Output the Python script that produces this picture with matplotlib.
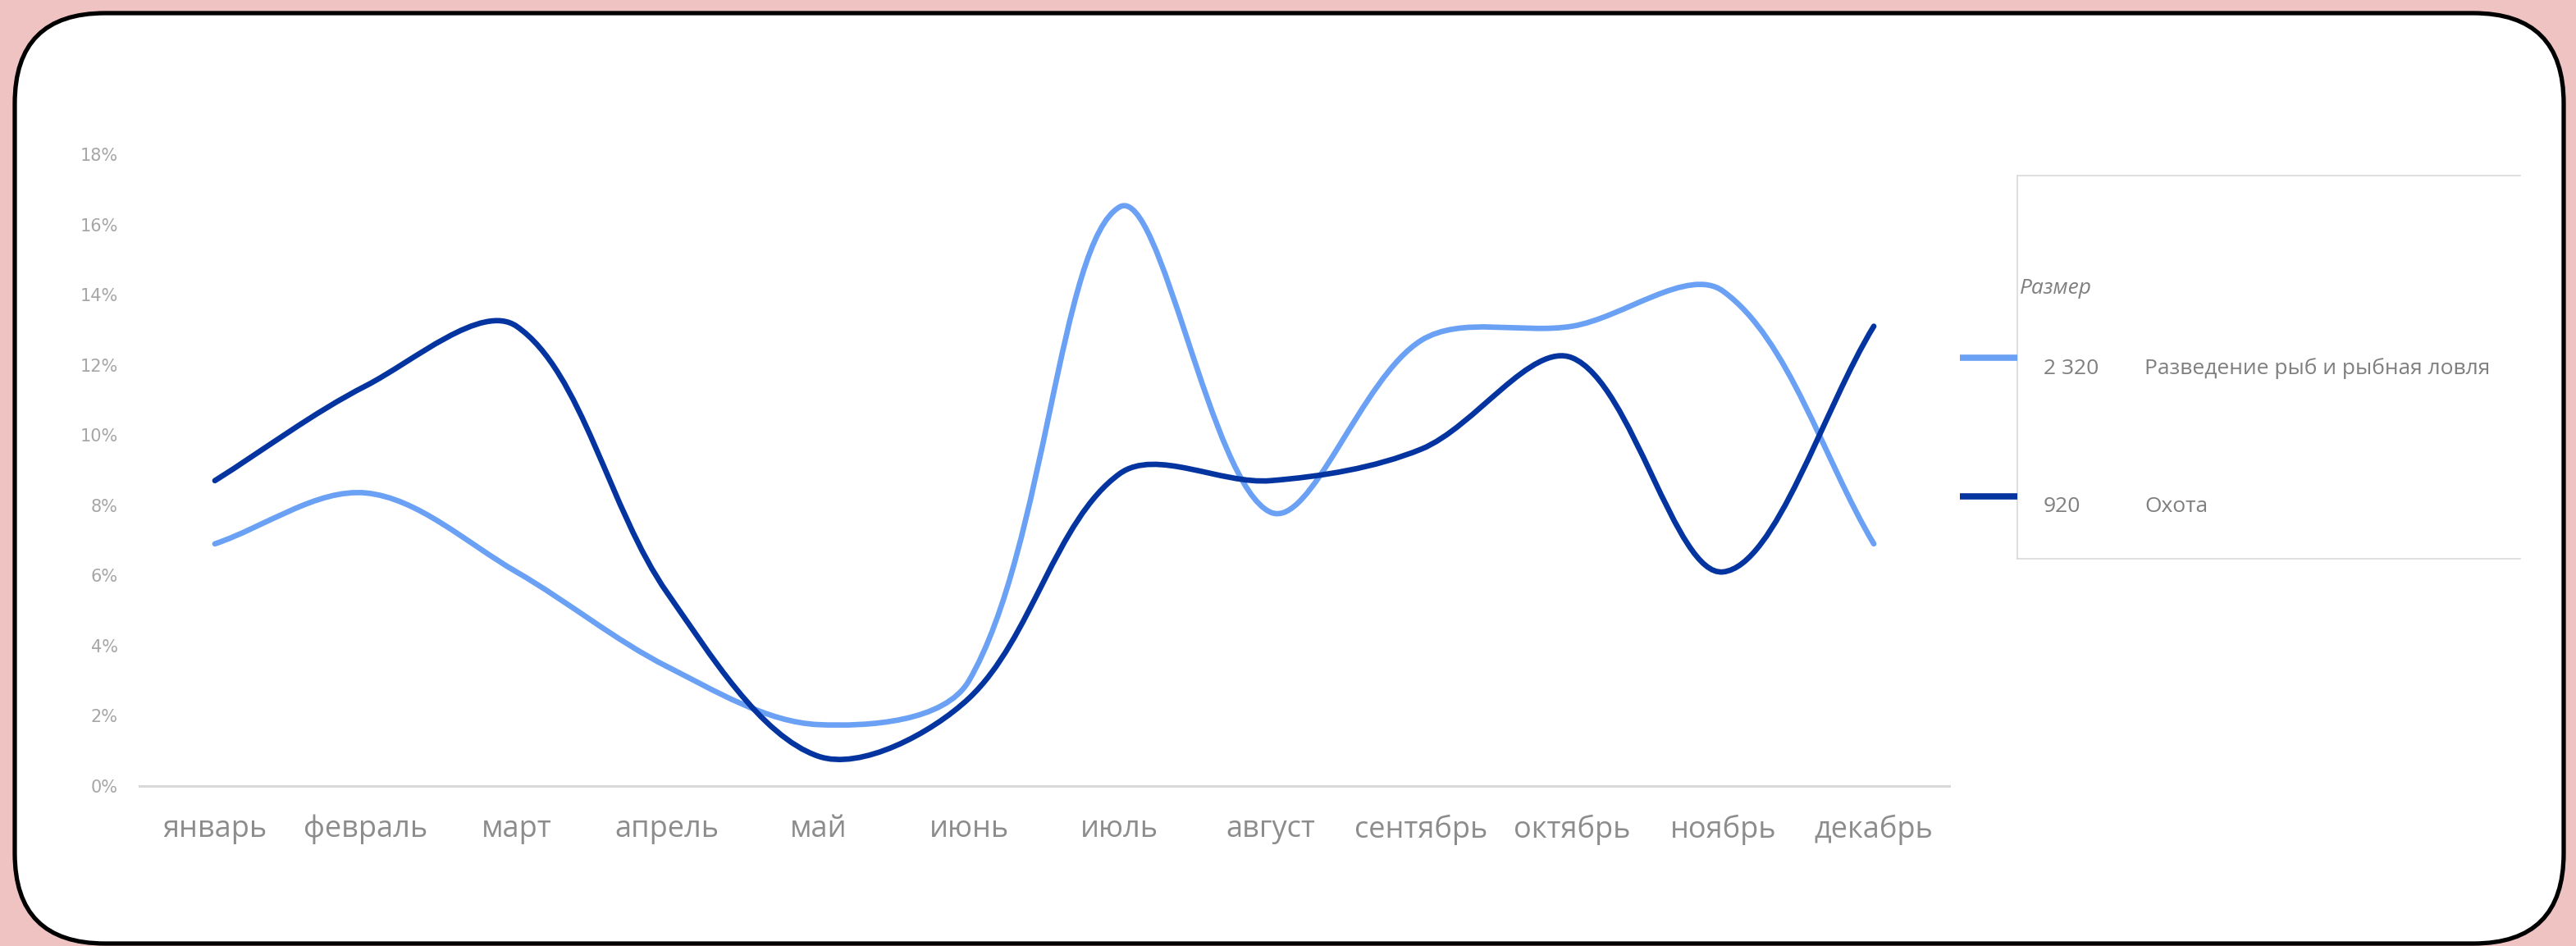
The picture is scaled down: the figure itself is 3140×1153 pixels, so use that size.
import matplotlib
matplotlib.use("Agg")
import matplotlib.pyplot as plt
from matplotlib.path import Path
from matplotlib.patches import PathPatch, FancyBboxPatch
import numpy as np

months = ["январь", "февраль", "март", "апрель", "май", "июнь",
          "июль", "август", "сентябрь", "октябрь", "ноябрь", "декабрь"]
fish = [6.9, 8.35, 6.1, 3.4, 1.75, 3.0, 16.5, 7.8, 12.7, 13.1, 14.1, 6.9]
hunt = [8.7, 11.4, 13.1, 5.5, 0.85, 2.5, 8.9, 8.7, 9.6, 12.2, 6.1, 13.1]
series_names = ["Разведение рыб и рыбная ловля", "Охота"]
series_sizes = ["2 320", "920"]
legend_title = "Размер"
yticks = [0, 2, 4, 6, 8, 10, 12, 14, 16, 18]

LIGHT = "#6BA1F4"
DARK = "#0334A0"
FONT = "Open Sans"

W, H = 3140, 1153
fig = plt.figure(figsize=(W / 100, H / 100), dpi=100)
fig.patch.set_facecolor("#EFC3C1")

# background card in pixel units
bg = fig.add_axes([0, 0, 1, 1], zorder=0)
bg.set_xlim(0, W)
bg.set_ylim(H, 0)
bg.axis("off")
bg.add_patch(FancyBboxPatch((18, 16), 3107, 1134,
                            boxstyle="round,pad=0,rounding_size=110",
                            facecolor="white", edgecolor="black", linewidth=3.8))

ax_box = [170, 958, 2206, 770]  # left, bottom(px from top), width, height
ax = fig.add_axes([ax_box[0] / W, 1 - ax_box[1] / H, ax_box[2] / W, ax_box[3] / H], zorder=1)
ax.patch.set_alpha(0)

# x unit vs 1% in screen pixels, used to smooth in screen space like excel
px_x = ax_box[2] / len(months)
px_y = ax_box[3] / 18.0
sx = px_x / px_y


def smooth_path(vals):
    pts = np.column_stack([np.arange(len(vals)) * sx, np.asarray(vals, float)])
    n = len(pts)
    verts = [pts[0]]
    codes = [Path.MOVETO]
    for i in range(n - 1):
        p0 = pts[i - 1] if i > 0 else pts[i]
        p1, p2 = pts[i], pts[i + 1]
        p3 = pts[i + 2] if i + 2 < n else pts[i + 1]
        d01 = np.hypot(*(p1 - p0))
        d12 = np.hypot(*(p2 - p1))
        d23 = np.hypot(*(p3 - p2))
        f1 = d12 / (d01 + d12) / 3 if d01 + d12 > 0 else 0
        f2 = d12 / (d12 + d23) / 3 if d12 + d23 > 0 else 0
        c1 = p1 + (p2 - p0) * f1
        c2 = p2 - (p3 - p1) * f2
        verts += [c1, c2, p2]
        codes += [Path.CURVE4] * 3
    verts = np.array(verts)
    verts[:, 0] /= sx
    verts[:, 1] /= 100
    return Path(verts, codes)


for vals, col in [(fish, LIGHT), (hunt, DARK)]:
    ax.add_patch(PathPatch(smooth_path(vals), facecolor="none", edgecolor=col,
                           linewidth=4.8, capstyle="round", joinstyle="round"))

ax.set_xlim(-0.5, len(months) - 0.5)
ax.set_ylim(0, 0.18)
ax.set_yticks(np.array(yticks) / 100)
ax.set_yticklabels([f"{v}%" for v in yticks], fontsize=15, color="#A6A6A6",
                   family="DejaVu Sans")
ax.set_xticks(np.arange(len(months)))
ax.set_xticklabels(months, fontsize=26, color="#8C8C8C", family=FONT)
ax.tick_params(axis="both", length=0)
ax.tick_params(axis="y", pad=19)
ax.tick_params(axis="x", pad=25)
for s in ["top", "right", "left"]:
    ax.spines[s].set_visible(False)
ax.spines["bottom"].set_color("#D9D9D9")
ax.spines["bottom"].set_linewidth(2.2)

# legend panel
bg.plot([2459, 3072], [214, 214], color="#D9D9D9", lw=1.2)
bg.plot([2459, 3072], [681, 681], color="#D9D9D9", lw=1.2)
bg.plot([2459, 2459], [214, 681], color="#D9D9D9", lw=1.2)
bg.text(2462, 352, legend_title, fontsize=19, style="italic", color="#7F7F7F",
        family=FONT, va="center", ha="left")
for yy, size, name, col in zip([436, 605], series_sizes, series_names, [LIGHT, DARK]):
    bg.plot([2389, 2459], [yy, yy], color=col, lw=5.5, solid_capstyle="butt")
    bg.text(2491, yy + 13, size, fontsize=19, color="#7F7F7F", family=FONT,
            va="center", ha="left")
    bg.text(2614, yy + 13, name, fontsize=19, color="#7F7F7F", family=FONT,
            va="center", ha="left")

fig.savefig("out.png", dpi=100)
